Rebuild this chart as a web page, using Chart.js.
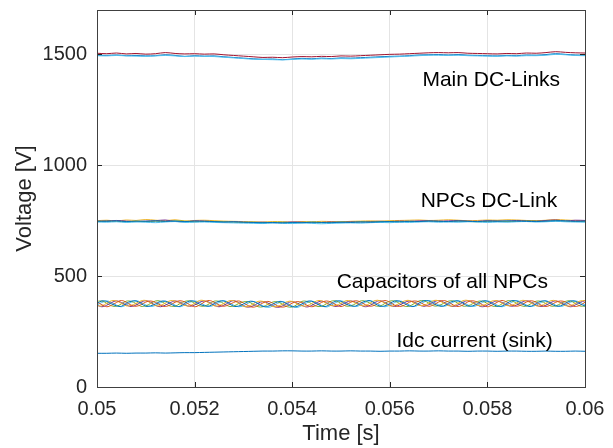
<!DOCTYPE html>
<html>
<head>
<meta charset="utf-8">
<script src="https://cdn.jsdelivr.net/npm/chart.js@4.4.1/dist/chart.umd.min.js"></script>
<style>
  body { margin: 0; background: #fff; }
  canvas { display: block; }
</style>
</head>
<body>
<canvas id="voltChart" width="613" height="448"></canvas>
<script>
// tick positions / labels
const xTicks = [0.05, 0.052, 0.054, 0.056, 0.058, 0.06];
const xTickLabels = ['0.05', '0.052', '0.054', '0.056', '0.058', '0.06'];
const yTicks = [0, 500, 1000, 1500];
const yTickLabels = ['0', '500', '1000', '1500'];

// sample grids (slow signals every 0.2 ms, capacitor ripple every 0.1 ms)
const startTime = 0.05;
const slowTime = Array.from({ length: 51 }, (_, i) => startTime + i * 0.0002);
const fastTime = Array.from({ length: 101 }, (_, i) => startTime + i * 0.0001);

// Main DC-links
const mainRed = [1505,1503,1506,1502,1504,1501, 1503,1508,1504,1502,1503, 1501,1502,1498,1495,1492, 1489,1486,1487,1485,1488, 1490,1489,1491,1490,1493, 1492,1494,1496,1498,1500, 1501,1503,1505,1507,1508, 1507,1508,1505,1504,1503, 1502,1504,1503,1506,1505, 1508,1512,1509,1507,1506];
const mainBlue = [1496,1495,1497,1494,1495,1493, 1494,1498,1495,1491,1494, 1492,1493,1489,1486,1483, 1480,1478,1479,1476,1479, 1482,1480,1483,1481,1484, 1483,1485,1487,1489,1491, 1492,1494,1497,1498,1499, 1497,1499,1496,1495,1494, 1493,1495,1494,1497,1496, 1499,1503,1500,1497,1496];
const mainCyan = [1494,1493,1495,1493,1492,1491, 1493,1495,1493,1490,1492, 1491,1490,1487,1484,1481, 1478,1477,1476,1475,1477, 1479,1478,1480,1479,1481, 1480,1482,1484,1486,1488, 1490,1492,1494,1496,1496, 1495,1496,1494,1493,1492, 1491,1493,1492,1494,1494, 1496,1500,1498,1495,1494];

// NPCs DC-link
const npcYellow = [750,752,749,753,751,755, 752,750,754,749,751, 752,750,748,747,746, 745,744,746,745,744, 746,745,747,746,745, 747,748,749,748,750, 751,752,753,751,752, 754,752,750,751,753, 752,754,753,751,750, 752,755,753,751,750];
const npcPurple = [747,749,751,748,746,748, 750,753,747,745,749, 748,746,744,745,743, 742,743,741,742,744, 743,741,742,744,743, 745,744,746,747,746, 748,747,749,750,748, 749,751,748,747,750, 749,748,751,750,748, 751,753,749,752,751];
const npcGreen = [746,748,747,745,747,746, 748,746,749,747,745, 747,746,745,743,742, 743,741,742,743,741, 742,743,741,742,744, 743,745,744,746,745, 746,747,746,748,747, 746,748,747,745,747, 748,746,747,749,748, 747,749,748,746,747];
const npcCyan = [744,743,745,742,744,743, 741,744,746,742,743, 744,742,741,740,739, 738,737,739,738,737, 739,738,736,738,739, 740,739,741,742,741, 743,742,744,745,743, 744,743,745,744,742, 744,743,745,746,744, 745,747,745,744,743];
const npcBlue = [748,747,749,746,748,747, 749,747,748,746,748, 747,746,744,745,743, 742,741,742,740,742, 741,743,742,741,743, 742,744,743,745,746, 745,747,746,748,747, 746,748,747,746,748, 747,749,748,747,746, 748,750,749,747,748];

// capacitors of all NPCs
const capBlue = [376,388,386,375,366,364, 377,387,388,377,364,366, 375,386,387,376,365,364, 377,388,386,374,366,365, 376,387,388,377,364,365, 374,385,386,375,363,364, 373,384,385,373,362,363, 375,386,387,376,365,364, 376,388,387,375,366,365, 377,387,389,376,364,366, 376,388,387,377,365,364, 378,389,388,376,366,365, 377,387,388,378,365,366, 376,388,387,376,364,365, 377,389,388,377,366,364, 376,387,388,376,365,366, 377,388,387,375,365];
const capOrange = [383,371,362,369,381,390, 382,369,364,371,383,388, 381,370,363,370,382,389, 383,371,362,369,383,390, 382,370,364,371,381,388, 379,367,360,367,379,386, 378,366,360,366,378,385, 381,369,362,369,381,388, 382,370,363,371,382,389, 383,371,364,370,383,390, 382,369,363,369,382,388, 384,372,364,371,383,390, 383,370,363,370,384,389, 382,371,362,370,382,390, 383,370,364,371,383,389, 382,369,363,370,382,388, 383,371,363,369,382];
const capYellow = [367,366,378,389,388,377, 366,368,377,388,390,378, 367,367,379,389,388,376, 368,366,378,390,389,378, 366,367,377,388,389,377, 364,363,375,386,386,374, 363,363,374,385,386,375, 366,366,377,388,389,377, 367,368,378,389,388,378, 368,367,379,390,389,377, 366,367,378,388,390,378, 368,368,379,390,389,379, 367,366,378,389,390,378, 368,367,377,388,389,377, 367,368,379,390,388,378, 366,367,378,389,389,377, 367,366,378,388,390];
const capPurple = [369,362,369,381,388,381, 370,363,370,382,389,382, 368,362,369,380,388,381, 370,364,370,382,388,382, 369,362,369,381,389,381, 366,360,366,378,385,379, 366,359,366,378,385,378, 368,361,368,380,387,380, 369,363,370,381,388,382, 370,362,369,382,389,381, 369,363,370,381,388,382, 371,364,371,383,390,383, 370,363,370,382,389,382, 369,362,369,381,388,381, 370,364,370,382,389,382, 369,363,369,381,388,381, 370,362,370,382,389];
const capGreen = [386,388,377,366,364,375, 387,386,376,364,366,377, 388,387,375,365,364,376, 386,388,377,366,365,375, 387,386,376,364,365,376, 384,384,373,362,362,373, 383,384,373,362,361,372, 386,386,375,364,364,375, 387,388,376,365,366,376, 388,387,377,366,365,377, 387,388,376,364,365,376, 388,389,378,366,367,377, 387,388,377,365,366,376, 386,387,376,365,364,375, 388,388,377,366,365,377, 387,386,376,365,366,376, 386,388,377,365,365];
const capCyan = [369,381,388,381,369,362, 370,382,389,382,370,363, 368,380,387,381,369,362, 370,382,388,382,370,363, 369,381,389,381,369,362, 366,378,385,378,366,359, 365,377,384,378,365,359, 368,380,387,380,368,361, 369,381,388,382,370,363, 370,382,389,381,369,362, 369,381,388,382,370,363, 371,383,390,383,371,364, 370,382,389,382,370,363, 369,381,388,381,369,362, 370,382,389,382,370,364, 369,381,388,381,369,363, 370,382,388,382,370];

// Idc current (sink)
const idcSink = [152,152,153,152,153,153, 154,153,154,155,155, 156,157,158,159,160, 161,162,162,163,163, 162,162,163,162,162, 163,162,162,161,162, 162,163,162,162,163, 162,162,161,162,162, 161,162,162,161,161, 162,161,161,162,161];

// text labels inside the axes
const notes = [
  { text: 'Main DC-Links', t: 0.05949, v: 1384 },
  { text: 'NPCs DC-Link', t: 0.05943, v: 840 },
  { text: 'Capacitors of all NPCs', t: 0.05924, v: 474 },
  { text: 'Idc current (sink)', t: 0.05934, v: 208 }
];

const fontFamily = '"Liberation Sans", Arial, Helvetica, sans-serif';

function line(times, vals, color, tension) {
  return {
    data: times.map((t, i) => ({ x: t, y: vals[i] })),
    borderColor: color,
    borderWidth: 1,
    pointRadius: 0,
    tension: tension,
    fill: false
  };
}

const datasets = [
  line(slowTime, idcSink, '#0072BD', 0.3),
  line(fastTime, capBlue, '#0072BD', 0.4),
  line(fastTime, capOrange, '#D95319', 0.4),
  line(fastTime, capYellow, '#EDB120', 0.4),
  line(fastTime, capPurple, '#7E2F8E', 0.4),
  line(fastTime, capGreen, '#77AC30', 0.4),
  line(fastTime, capCyan, '#4DBEEE', 0.4),
  line(slowTime, npcBlue, '#0072BD', 0.3),
  line(slowTime, npcCyan, '#4DBEEE', 0.3),
  line(slowTime, npcGreen, '#77AC30', 0.3),
  line(slowTime, npcPurple, '#7E2F8E', 0.3),
  line(slowTime, npcYellow, '#EDB120', 0.3),
  line(slowTime, mainCyan, '#4DBEEE', 0.3),
  line(slowTime, mainBlue, '#0072BD', 0.3),
  line(slowTime, mainRed, '#A2142F', 0.3)
];

// box round the axes, inward tick marks, and the text labels
const boxPlugin = {
  id: 'box',
  afterDraw(chart) {
    const { ctx, chartArea: a, scales: { x, y } } = chart;
    ctx.save();
    ctx.strokeStyle = '#262626';
    ctx.lineWidth = 1;
    ctx.beginPath();
    xTicks.forEach(v => {
      const px = Math.round(x.getPixelForValue(v)) + 0.5;
      ctx.moveTo(px, a.bottom); ctx.lineTo(px, a.bottom - 5);
      ctx.moveTo(px, a.top); ctx.lineTo(px, a.top + 5);
    });
    yTicks.forEach(v => {
      const py = Math.round(y.getPixelForValue(v)) + 0.5;
      ctx.moveTo(a.left, py); ctx.lineTo(a.left + 5, py);
      ctx.moveTo(a.right, py); ctx.lineTo(a.right - 5, py);
    });
    ctx.stroke();
    ctx.strokeStyle = '#404040';
    ctx.strokeRect(Math.round(a.left) + 0.5, Math.round(a.top) + 0.5,
      Math.round(a.right - a.left), Math.round(a.bottom - a.top));

    ctx.fillStyle = '#000';
    ctx.font = '21px ' + fontFamily;
    ctx.textAlign = 'right';
    ctx.textBaseline = 'middle';
    notes.forEach(n => {
      ctx.fillText(n.text, x.getPixelForValue(n.t), y.getPixelForValue(n.v));
    });
    ctx.restore();
  }
};

const ctx = document.getElementById('voltChart').getContext('2d');
const voltChart = new Chart(ctx, {
  type: 'line',
  data: { datasets: datasets },
  plugins: [boxPlugin],
  options: {
    responsive: false,
    animation: false,
    layout: { padding: { top: 10, right: 28, left: 0, bottom: 0 } },
    plugins: {
      legend: { display: false },
      tooltip: { enabled: false }
    },
    scales: {
      x: {
        type: 'linear',
        min: 0.05,
        max: 0.06,
        afterBuildTicks: s => { s.ticks = xTicks.map(v => ({ value: v })); },
        afterFit: s => { s.height = 61; s.paddingLeft = 0; s.paddingRight = 0; },
        ticks: {
          autoSkip: false,
          maxRotation: 0,
          padding: 10,
          color: '#262626',
          font: { family: fontFamily, size: 20 },
          callback: (v, i) => xTickLabels[i]
        },
        grid: { color: '#e4e4e4', drawTicks: false },
        border: { display: false },
        title: {
          display: true,
          text: 'Time [s]',
          color: '#262626',
          font: { family: fontFamily, size: 22 },
          padding: { top: 0, bottom: 1 }
        }
      },
      y: {
        type: 'linear',
        min: 0,
        max: 1700,
        afterBuildTicks: s => { s.ticks = yTicks.map(v => ({ value: v })); },
        afterFit: s => { s.width = 97; s.paddingTop = 0; s.paddingBottom = 0; },
        ticks: {
          padding: 10,
          color: '#262626',
          font: { family: fontFamily, size: 20 },
          callback: (v, i) => yTickLabels[i]
        },
        grid: { color: '#e4e4e4', drawTicks: false },
        border: { display: false },
        title: {
          display: true,
          text: 'Voltage [V]',
          color: '#262626',
          font: { family: fontFamily, size: 22 },
          padding: { top: 12, bottom: 0 }
        }
      }
    }
  }
});
</script>
</body>
</html>
